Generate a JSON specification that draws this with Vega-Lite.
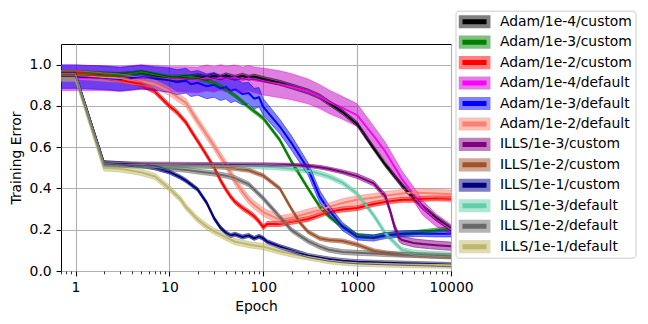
{
"$schema":"https://vega.github.io/schema/vega-lite/v6.json",
"width":390,"height":227,
"autosize":{"type":"none"},
"padding":{"left":61,"top":44,"right":197,"bottom":53},
"background":"white",
"config":{
 "font":"DejaVu Sans",
 "view":{"stroke":"#000000","strokeWidth":1},
 "axis":{"labelFont":"DejaVu Sans","labelFontSize":13.9,"labelColor":"#000000","titleFont":"DejaVu Sans","titleFontSize":13.9,"titleFontWeight":"normal","titleColor":"#000000","tickColor":"#000000","domain":false,"gridColor":"#b0b0b0","gridWidth":1.1}
},
"data":{"values":[
{"run":"Adam/1e-4/custom","epoch":0.7,"err":0.960,"lo":0.950,"hi":0.970},
{"run":"Adam/1e-4/custom","epoch":1,"err":0.960,"lo":0.950,"hi":0.970},
{"run":"Adam/1e-4/custom","epoch":1.5,"err":0.957,"lo":0.947,"hi":0.967},
{"run":"Adam/1e-4/custom","epoch":2,"err":0.954,"lo":0.944,"hi":0.964},
{"run":"Adam/1e-4/custom","epoch":3,"err":0.952,"lo":0.942,"hi":0.962},
{"run":"Adam/1e-4/custom","epoch":4,"err":0.956,"lo":0.946,"hi":0.966},
{"run":"Adam/1e-4/custom","epoch":5,"err":0.962,"lo":0.952,"hi":0.972},
{"run":"Adam/1e-4/custom","epoch":7,"err":0.948,"lo":0.938,"hi":0.958},
{"run":"Adam/1e-4/custom","epoch":10,"err":0.932,"lo":0.922,"hi":0.942},
{"run":"Adam/1e-4/custom","epoch":12,"err":0.930,"lo":0.920,"hi":0.940},
{"run":"Adam/1e-4/custom","epoch":15,"err":0.938,"lo":0.928,"hi":0.948},
{"run":"Adam/1e-4/custom","epoch":20,"err":0.944,"lo":0.932,"hi":0.956},
{"run":"Adam/1e-4/custom","epoch":25,"err":0.936,"lo":0.924,"hi":0.948},
{"run":"Adam/1e-4/custom","epoch":30,"err":0.946,"lo":0.934,"hi":0.958},
{"run":"Adam/1e-4/custom","epoch":35,"err":0.938,"lo":0.926,"hi":0.950},
{"run":"Adam/1e-4/custom","epoch":40,"err":0.948,"lo":0.936,"hi":0.960},
{"run":"Adam/1e-4/custom","epoch":50,"err":0.936,"lo":0.924,"hi":0.948},
{"run":"Adam/1e-4/custom","epoch":60,"err":0.946,"lo":0.934,"hi":0.958},
{"run":"Adam/1e-4/custom","epoch":70,"err":0.936,"lo":0.924,"hi":0.948},
{"run":"Adam/1e-4/custom","epoch":80,"err":0.942,"lo":0.930,"hi":0.954},
{"run":"Adam/1e-4/custom","epoch":100,"err":0.930,"lo":0.918,"hi":0.942},
{"run":"Adam/1e-4/custom","epoch":150,"err":0.912,"lo":0.900,"hi":0.924},
{"run":"Adam/1e-4/custom","epoch":200,"err":0.895,"lo":0.883,"hi":0.907},
{"run":"Adam/1e-4/custom","epoch":300,"err":0.870,"lo":0.858,"hi":0.882},
{"run":"Adam/1e-4/custom","epoch":400,"err":0.845,"lo":0.833,"hi":0.857},
{"run":"Adam/1e-4/custom","epoch":500,"err":0.815,"lo":0.803,"hi":0.827},
{"run":"Adam/1e-4/custom","epoch":700,"err":0.770,"lo":0.758,"hi":0.782},
{"run":"Adam/1e-4/custom","epoch":1000,"err":0.712,"lo":0.700,"hi":0.724},
{"run":"Adam/1e-4/custom","epoch":1500,"err":0.595,"lo":0.583,"hi":0.607},
{"run":"Adam/1e-4/custom","epoch":2000,"err":0.515,"lo":0.503,"hi":0.527},
{"run":"Adam/1e-4/custom","epoch":3000,"err":0.415,"lo":0.403,"hi":0.427},
{"run":"Adam/1e-4/custom","epoch":4000,"err":0.355,"lo":0.343,"hi":0.367},
{"run":"Adam/1e-4/custom","epoch":5000,"err":0.310,"lo":0.298,"hi":0.322},
{"run":"Adam/1e-4/custom","epoch":7000,"err":0.255,"lo":0.243,"hi":0.267},
{"run":"Adam/1e-4/custom","epoch":10000,"err":0.205,"lo":0.193,"hi":0.217},

{"run":"Adam/1e-3/custom","epoch":0.7,"err":0.962,"lo":0.952,"hi":0.972},
{"run":"Adam/1e-3/custom","epoch":1,"err":0.962,"lo":0.952,"hi":0.972},
{"run":"Adam/1e-3/custom","epoch":1.5,"err":0.958,"lo":0.948,"hi":0.968},
{"run":"Adam/1e-3/custom","epoch":2,"err":0.955,"lo":0.945,"hi":0.965},
{"run":"Adam/1e-3/custom","epoch":3,"err":0.950,"lo":0.940,"hi":0.960},
{"run":"Adam/1e-3/custom","epoch":4,"err":0.956,"lo":0.946,"hi":0.966},
{"run":"Adam/1e-3/custom","epoch":5,"err":0.964,"lo":0.954,"hi":0.974},
{"run":"Adam/1e-3/custom","epoch":7,"err":0.952,"lo":0.942,"hi":0.962},
{"run":"Adam/1e-3/custom","epoch":10,"err":0.940,"lo":0.930,"hi":0.950},
{"run":"Adam/1e-3/custom","epoch":15,"err":0.944,"lo":0.934,"hi":0.954},
{"run":"Adam/1e-3/custom","epoch":20,"err":0.935,"lo":0.925,"hi":0.945},
{"run":"Adam/1e-3/custom","epoch":30,"err":0.912,"lo":0.902,"hi":0.922},
{"run":"Adam/1e-3/custom","epoch":40,"err":0.880,"lo":0.870,"hi":0.890},
{"run":"Adam/1e-3/custom","epoch":50,"err":0.850,"lo":0.840,"hi":0.860},
{"run":"Adam/1e-3/custom","epoch":70,"err":0.795,"lo":0.785,"hi":0.805},
{"run":"Adam/1e-3/custom","epoch":100,"err":0.740,"lo":0.730,"hi":0.750},
{"run":"Adam/1e-3/custom","epoch":150,"err":0.635,"lo":0.625,"hi":0.645},
{"run":"Adam/1e-3/custom","epoch":200,"err":0.530,"lo":0.520,"hi":0.540},
{"run":"Adam/1e-3/custom","epoch":300,"err":0.400,"lo":0.390,"hi":0.410},
{"run":"Adam/1e-3/custom","epoch":400,"err":0.312,"lo":0.302,"hi":0.322},
{"run":"Adam/1e-3/custom","epoch":500,"err":0.265,"lo":0.255,"hi":0.275},
{"run":"Adam/1e-3/custom","epoch":700,"err":0.215,"lo":0.205,"hi":0.225},
{"run":"Adam/1e-3/custom","epoch":1000,"err":0.172,"lo":0.162,"hi":0.182},
{"run":"Adam/1e-3/custom","epoch":1500,"err":0.165,"lo":0.155,"hi":0.175},
{"run":"Adam/1e-3/custom","epoch":2000,"err":0.175,"lo":0.165,"hi":0.185},
{"run":"Adam/1e-3/custom","epoch":3000,"err":0.180,"lo":0.170,"hi":0.190},
{"run":"Adam/1e-3/custom","epoch":4000,"err":0.185,"lo":0.175,"hi":0.195},
{"run":"Adam/1e-3/custom","epoch":5000,"err":0.190,"lo":0.180,"hi":0.200},
{"run":"Adam/1e-3/custom","epoch":7000,"err":0.198,"lo":0.188,"hi":0.208},
{"run":"Adam/1e-3/custom","epoch":10000,"err":0.205,"lo":0.195,"hi":0.215},

{"run":"Adam/1e-2/custom","epoch":0.7,"err":0.960,"lo":0.948,"hi":0.972},
{"run":"Adam/1e-2/custom","epoch":1,"err":0.960,"lo":0.948,"hi":0.972},
{"run":"Adam/1e-2/custom","epoch":1.5,"err":0.950,"lo":0.938,"hi":0.962},
{"run":"Adam/1e-2/custom","epoch":2,"err":0.943,"lo":0.931,"hi":0.955},
{"run":"Adam/1e-2/custom","epoch":3,"err":0.925,"lo":0.913,"hi":0.937},
{"run":"Adam/1e-2/custom","epoch":4,"err":0.915,"lo":0.903,"hi":0.927},
{"run":"Adam/1e-2/custom","epoch":5,"err":0.905,"lo":0.893,"hi":0.917},
{"run":"Adam/1e-2/custom","epoch":7,"err":0.870,"lo":0.858,"hi":0.882},
{"run":"Adam/1e-2/custom","epoch":10,"err":0.800,"lo":0.788,"hi":0.812},
{"run":"Adam/1e-2/custom","epoch":12,"err":0.770,"lo":0.758,"hi":0.782},
{"run":"Adam/1e-2/custom","epoch":15,"err":0.720,"lo":0.708,"hi":0.732},
{"run":"Adam/1e-2/custom","epoch":17,"err":0.680,"lo":0.668,"hi":0.692},
{"run":"Adam/1e-2/custom","epoch":20,"err":0.630,"lo":0.618,"hi":0.642},
{"run":"Adam/1e-2/custom","epoch":25,"err":0.560,"lo":0.548,"hi":0.572},
{"run":"Adam/1e-2/custom","epoch":30,"err":0.500,"lo":0.488,"hi":0.512},
{"run":"Adam/1e-2/custom","epoch":35,"err":0.440,"lo":0.428,"hi":0.452},
{"run":"Adam/1e-2/custom","epoch":40,"err":0.395,"lo":0.383,"hi":0.407},
{"run":"Adam/1e-2/custom","epoch":45,"err":0.360,"lo":0.348,"hi":0.372},
{"run":"Adam/1e-2/custom","epoch":50,"err":0.335,"lo":0.323,"hi":0.347},
{"run":"Adam/1e-2/custom","epoch":60,"err":0.305,"lo":0.293,"hi":0.317},
{"run":"Adam/1e-2/custom","epoch":70,"err":0.285,"lo":0.273,"hi":0.297},
{"run":"Adam/1e-2/custom","epoch":80,"err":0.265,"lo":0.253,"hi":0.277},
{"run":"Adam/1e-2/custom","epoch":90,"err":0.240,"lo":0.228,"hi":0.252},
{"run":"Adam/1e-2/custom","epoch":100,"err":0.212,"lo":0.200,"hi":0.224},
{"run":"Adam/1e-2/custom","epoch":110,"err":0.228,"lo":0.216,"hi":0.240},
{"run":"Adam/1e-2/custom","epoch":150,"err":0.228,"lo":0.216,"hi":0.240},
{"run":"Adam/1e-2/custom","epoch":200,"err":0.238,"lo":0.226,"hi":0.250},
{"run":"Adam/1e-2/custom","epoch":300,"err":0.252,"lo":0.240,"hi":0.264},
{"run":"Adam/1e-2/custom","epoch":400,"err":0.272,"lo":0.260,"hi":0.284},
{"run":"Adam/1e-2/custom","epoch":500,"err":0.288,"lo":0.276,"hi":0.300},
{"run":"Adam/1e-2/custom","epoch":700,"err":0.298,"lo":0.286,"hi":0.310},
{"run":"Adam/1e-2/custom","epoch":1000,"err":0.305,"lo":0.293,"hi":0.317},
{"run":"Adam/1e-2/custom","epoch":1500,"err":0.325,"lo":0.313,"hi":0.337},
{"run":"Adam/1e-2/custom","epoch":2000,"err":0.335,"lo":0.323,"hi":0.347},
{"run":"Adam/1e-2/custom","epoch":3000,"err":0.345,"lo":0.333,"hi":0.357},
{"run":"Adam/1e-2/custom","epoch":4000,"err":0.345,"lo":0.333,"hi":0.357},
{"run":"Adam/1e-2/custom","epoch":5000,"err":0.350,"lo":0.338,"hi":0.362},
{"run":"Adam/1e-2/custom","epoch":7000,"err":0.352,"lo":0.340,"hi":0.364},
{"run":"Adam/1e-2/custom","epoch":10000,"err":0.350,"lo":0.338,"hi":0.362},

{"run":"Adam/1e-4/default","epoch":0.7,"err":0.935,"lo":0.875,"hi":0.995},
{"run":"Adam/1e-4/default","epoch":1,"err":0.935,"lo":0.875,"hi":0.995},
{"run":"Adam/1e-4/default","epoch":2,"err":0.935,"lo":0.875,"hi":0.995},
{"run":"Adam/1e-4/default","epoch":3,"err":0.930,"lo":0.870,"hi":0.990},
{"run":"Adam/1e-4/default","epoch":5,"err":0.940,"lo":0.880,"hi":1.000},
{"run":"Adam/1e-4/default","epoch":7,"err":0.935,"lo":0.875,"hi":0.995},
{"run":"Adam/1e-4/default","epoch":10,"err":0.930,"lo":0.870,"hi":0.990},
{"run":"Adam/1e-4/default","epoch":15,"err":0.928,"lo":0.866,"hi":0.990},
{"run":"Adam/1e-4/default","epoch":20,"err":0.925,"lo":0.862,"hi":0.988},
{"run":"Adam/1e-4/default","epoch":25,"err":0.935,"lo":0.872,"hi":0.998},
{"run":"Adam/1e-4/default","epoch":30,"err":0.928,"lo":0.866,"hi":0.990},
{"run":"Adam/1e-4/default","epoch":35,"err":0.938,"lo":0.876,"hi":1.000},
{"run":"Adam/1e-4/default","epoch":40,"err":0.930,"lo":0.868,"hi":0.992},
{"run":"Adam/1e-4/default","epoch":50,"err":0.936,"lo":0.874,"hi":0.998},
{"run":"Adam/1e-4/default","epoch":60,"err":0.926,"lo":0.864,"hi":0.988},
{"run":"Adam/1e-4/default","epoch":70,"err":0.934,"lo":0.872,"hi":0.996},
{"run":"Adam/1e-4/default","epoch":80,"err":0.926,"lo":0.864,"hi":0.988},
{"run":"Adam/1e-4/default","epoch":100,"err":0.918,"lo":0.853,"hi":0.983},
{"run":"Adam/1e-4/default","epoch":150,"err":0.905,"lo":0.840,"hi":0.970},
{"run":"Adam/1e-4/default","epoch":200,"err":0.893,"lo":0.830,"hi":0.956},
{"run":"Adam/1e-4/default","epoch":300,"err":0.870,"lo":0.810,"hi":0.930},
{"run":"Adam/1e-4/default","epoch":400,"err":0.845,"lo":0.787,"hi":0.903},
{"run":"Adam/1e-4/default","epoch":500,"err":0.820,"lo":0.763,"hi":0.877},
{"run":"Adam/1e-4/default","epoch":700,"err":0.790,"lo":0.735,"hi":0.845},
{"run":"Adam/1e-4/default","epoch":1000,"err":0.755,"lo":0.700,"hi":0.810},
{"run":"Adam/1e-4/default","epoch":1500,"err":0.655,"lo":0.608,"hi":0.702},
{"run":"Adam/1e-4/default","epoch":2000,"err":0.578,"lo":0.533,"hi":0.623},
{"run":"Adam/1e-4/default","epoch":3000,"err":0.445,"lo":0.405,"hi":0.485},
{"run":"Adam/1e-4/default","epoch":4000,"err":0.372,"lo":0.337,"hi":0.407},
{"run":"Adam/1e-4/default","epoch":5000,"err":0.305,"lo":0.270,"hi":0.340},
{"run":"Adam/1e-4/default","epoch":7000,"err":0.245,"lo":0.215,"hi":0.275},
{"run":"Adam/1e-4/default","epoch":10000,"err":0.200,"lo":0.175,"hi":0.225},

{"run":"Adam/1e-3/default","epoch":0.7,"err":0.942,"lo":0.885,"hi":0.999},
{"run":"Adam/1e-3/default","epoch":1,"err":0.942,"lo":0.885,"hi":0.999},
{"run":"Adam/1e-3/default","epoch":2,"err":0.936,"lo":0.879,"hi":0.993},
{"run":"Adam/1e-3/default","epoch":3,"err":0.930,"lo":0.873,"hi":0.987},
{"run":"Adam/1e-3/default","epoch":5,"err":0.940,"lo":0.883,"hi":0.997},
{"run":"Adam/1e-3/default","epoch":7,"err":0.932,"lo":0.875,"hi":0.989},
{"run":"Adam/1e-3/default","epoch":10,"err":0.925,"lo":0.866,"hi":0.984},
{"run":"Adam/1e-3/default","epoch":12,"err":0.915,"lo":0.855,"hi":0.975},
{"run":"Adam/1e-3/default","epoch":15,"err":0.922,"lo":0.862,"hi":0.982},
{"run":"Adam/1e-3/default","epoch":17,"err":0.905,"lo":0.845,"hi":0.965},
{"run":"Adam/1e-3/default","epoch":20,"err":0.912,"lo":0.852,"hi":0.972},
{"run":"Adam/1e-3/default","epoch":25,"err":0.895,"lo":0.835,"hi":0.955},
{"run":"Adam/1e-3/default","epoch":30,"err":0.902,"lo":0.842,"hi":0.962},
{"run":"Adam/1e-3/default","epoch":35,"err":0.885,"lo":0.826,"hi":0.944},
{"run":"Adam/1e-3/default","epoch":40,"err":0.892,"lo":0.834,"hi":0.950},
{"run":"Adam/1e-3/default","epoch":45,"err":0.872,"lo":0.815,"hi":0.929},
{"run":"Adam/1e-3/default","epoch":50,"err":0.880,"lo":0.824,"hi":0.936},
{"run":"Adam/1e-3/default","epoch":60,"err":0.858,"lo":0.805,"hi":0.911},
{"run":"Adam/1e-3/default","epoch":70,"err":0.862,"lo":0.810,"hi":0.914},
{"run":"Adam/1e-3/default","epoch":80,"err":0.835,"lo":0.785,"hi":0.885},
{"run":"Adam/1e-3/default","epoch":90,"err":0.842,"lo":0.795,"hi":0.889},
{"run":"Adam/1e-3/default","epoch":100,"err":0.795,"lo":0.755,"hi":0.835},
{"run":"Adam/1e-3/default","epoch":150,"err":0.700,"lo":0.665,"hi":0.735},
{"run":"Adam/1e-3/default","epoch":200,"err":0.620,"lo":0.585,"hi":0.655},
{"run":"Adam/1e-3/default","epoch":300,"err":0.495,"lo":0.465,"hi":0.525},
{"run":"Adam/1e-3/default","epoch":400,"err":0.360,"lo":0.330,"hi":0.390},
{"run":"Adam/1e-3/default","epoch":500,"err":0.295,"lo":0.270,"hi":0.320},
{"run":"Adam/1e-3/default","epoch":700,"err":0.215,"lo":0.195,"hi":0.235},
{"run":"Adam/1e-3/default","epoch":1000,"err":0.165,"lo":0.150,"hi":0.180},
{"run":"Adam/1e-3/default","epoch":1500,"err":0.160,"lo":0.145,"hi":0.175},
{"run":"Adam/1e-3/default","epoch":2000,"err":0.172,"lo":0.157,"hi":0.187},
{"run":"Adam/1e-3/default","epoch":3000,"err":0.180,"lo":0.165,"hi":0.195},
{"run":"Adam/1e-3/default","epoch":5000,"err":0.182,"lo":0.167,"hi":0.197},
{"run":"Adam/1e-3/default","epoch":7000,"err":0.180,"lo":0.165,"hi":0.195},
{"run":"Adam/1e-3/default","epoch":10000,"err":0.180,"lo":0.165,"hi":0.195},

{"run":"Adam/1e-2/default","epoch":0.7,"err":0.950,"lo":0.930,"hi":0.970},
{"run":"Adam/1e-2/default","epoch":1,"err":0.950,"lo":0.930,"hi":0.970},
{"run":"Adam/1e-2/default","epoch":1.5,"err":0.945,"lo":0.925,"hi":0.965},
{"run":"Adam/1e-2/default","epoch":2,"err":0.940,"lo":0.920,"hi":0.960},
{"run":"Adam/1e-2/default","epoch":3,"err":0.935,"lo":0.915,"hi":0.955},
{"run":"Adam/1e-2/default","epoch":4,"err":0.925,"lo":0.905,"hi":0.945},
{"run":"Adam/1e-2/default","epoch":5,"err":0.920,"lo":0.900,"hi":0.940},
{"run":"Adam/1e-2/default","epoch":7,"err":0.905,"lo":0.885,"hi":0.925},
{"run":"Adam/1e-2/default","epoch":10,"err":0.870,"lo":0.850,"hi":0.890},
{"run":"Adam/1e-2/default","epoch":12,"err":0.845,"lo":0.825,"hi":0.865},
{"run":"Adam/1e-2/default","epoch":15,"err":0.815,"lo":0.795,"hi":0.835},
{"run":"Adam/1e-2/default","epoch":20,"err":0.725,"lo":0.705,"hi":0.745},
{"run":"Adam/1e-2/default","epoch":25,"err":0.660,"lo":0.640,"hi":0.680},
{"run":"Adam/1e-2/default","epoch":30,"err":0.605,"lo":0.585,"hi":0.625},
{"run":"Adam/1e-2/default","epoch":35,"err":0.555,"lo":0.535,"hi":0.575},
{"run":"Adam/1e-2/default","epoch":40,"err":0.515,"lo":0.495,"hi":0.535},
{"run":"Adam/1e-2/default","epoch":50,"err":0.435,"lo":0.415,"hi":0.455},
{"run":"Adam/1e-2/default","epoch":60,"err":0.385,"lo":0.365,"hi":0.405},
{"run":"Adam/1e-2/default","epoch":70,"err":0.345,"lo":0.325,"hi":0.365},
{"run":"Adam/1e-2/default","epoch":80,"err":0.320,"lo":0.300,"hi":0.340},
{"run":"Adam/1e-2/default","epoch":100,"err":0.285,"lo":0.265,"hi":0.305},
{"run":"Adam/1e-2/default","epoch":150,"err":0.248,"lo":0.228,"hi":0.268},
{"run":"Adam/1e-2/default","epoch":200,"err":0.258,"lo":0.238,"hi":0.278},
{"run":"Adam/1e-2/default","epoch":300,"err":0.280,"lo":0.260,"hi":0.300},
{"run":"Adam/1e-2/default","epoch":400,"err":0.295,"lo":0.275,"hi":0.315},
{"run":"Adam/1e-2/default","epoch":500,"err":0.310,"lo":0.290,"hi":0.330},
{"run":"Adam/1e-2/default","epoch":700,"err":0.330,"lo":0.310,"hi":0.350},
{"run":"Adam/1e-2/default","epoch":1000,"err":0.345,"lo":0.325,"hi":0.365},
{"run":"Adam/1e-2/default","epoch":1500,"err":0.355,"lo":0.335,"hi":0.375},
{"run":"Adam/1e-2/default","epoch":2000,"err":0.365,"lo":0.345,"hi":0.385},
{"run":"Adam/1e-2/default","epoch":3000,"err":0.375,"lo":0.355,"hi":0.395},
{"run":"Adam/1e-2/default","epoch":4000,"err":0.380,"lo":0.360,"hi":0.400},
{"run":"Adam/1e-2/default","epoch":5000,"err":0.378,"lo":0.358,"hi":0.398},
{"run":"Adam/1e-2/default","epoch":7000,"err":0.375,"lo":0.355,"hi":0.395},
{"run":"Adam/1e-2/default","epoch":10000,"err":0.372,"lo":0.352,"hi":0.392},

{"run":"ILLS/1e-3/custom","epoch":0.7,"err":0.950,"lo":0.942,"hi":0.958},
{"run":"ILLS/1e-3/custom","epoch":1,"err":0.950,"lo":0.942,"hi":0.958},
{"run":"ILLS/1e-3/custom","epoch":2,"err":0.525,"lo":0.517,"hi":0.533},
{"run":"ILLS/1e-3/custom","epoch":3,"err":0.522,"lo":0.514,"hi":0.530},
{"run":"ILLS/1e-3/custom","epoch":5,"err":0.520,"lo":0.512,"hi":0.528},
{"run":"ILLS/1e-3/custom","epoch":10,"err":0.519,"lo":0.511,"hi":0.527},
{"run":"ILLS/1e-3/custom","epoch":20,"err":0.518,"lo":0.510,"hi":0.526},
{"run":"ILLS/1e-3/custom","epoch":50,"err":0.517,"lo":0.509,"hi":0.525},
{"run":"ILLS/1e-3/custom","epoch":100,"err":0.516,"lo":0.508,"hi":0.524},
{"run":"ILLS/1e-3/custom","epoch":150,"err":0.515,"lo":0.507,"hi":0.523},
{"run":"ILLS/1e-3/custom","epoch":200,"err":0.514,"lo":0.506,"hi":0.522},
{"run":"ILLS/1e-3/custom","epoch":300,"err":0.510,"lo":0.502,"hi":0.518},
{"run":"ILLS/1e-3/custom","epoch":400,"err":0.503,"lo":0.494,"hi":0.512},
{"run":"ILLS/1e-3/custom","epoch":500,"err":0.495,"lo":0.486,"hi":0.504},
{"run":"ILLS/1e-3/custom","epoch":700,"err":0.480,"lo":0.470,"hi":0.490},
{"run":"ILLS/1e-3/custom","epoch":1000,"err":0.460,"lo":0.448,"hi":0.472},
{"run":"ILLS/1e-3/custom","epoch":1500,"err":0.425,"lo":0.412,"hi":0.438},
{"run":"ILLS/1e-3/custom","epoch":2000,"err":0.362,"lo":0.348,"hi":0.376},
{"run":"ILLS/1e-3/custom","epoch":2250,"err":0.290,"lo":0.275,"hi":0.305},
{"run":"ILLS/1e-3/custom","epoch":2500,"err":0.215,"lo":0.198,"hi":0.232},
{"run":"ILLS/1e-3/custom","epoch":2800,"err":0.160,"lo":0.142,"hi":0.178},
{"run":"ILLS/1e-3/custom","epoch":3000,"err":0.150,"lo":0.131,"hi":0.169},
{"run":"ILLS/1e-3/custom","epoch":4000,"err":0.136,"lo":0.116,"hi":0.156},
{"run":"ILLS/1e-3/custom","epoch":5000,"err":0.131,"lo":0.111,"hi":0.151},
{"run":"ILLS/1e-3/custom","epoch":7000,"err":0.125,"lo":0.105,"hi":0.145},
{"run":"ILLS/1e-3/custom","epoch":10000,"err":0.120,"lo":0.100,"hi":0.140},

{"run":"ILLS/1e-2/custom","epoch":0.7,"err":0.950,"lo":0.940,"hi":0.960},
{"run":"ILLS/1e-2/custom","epoch":1,"err":0.950,"lo":0.940,"hi":0.960},
{"run":"ILLS/1e-2/custom","epoch":2,"err":0.522,"lo":0.512,"hi":0.532},
{"run":"ILLS/1e-2/custom","epoch":3,"err":0.516,"lo":0.506,"hi":0.526},
{"run":"ILLS/1e-2/custom","epoch":5,"err":0.513,"lo":0.503,"hi":0.523},
{"run":"ILLS/1e-2/custom","epoch":10,"err":0.511,"lo":0.501,"hi":0.521},
{"run":"ILLS/1e-2/custom","epoch":20,"err":0.509,"lo":0.499,"hi":0.519},
{"run":"ILLS/1e-2/custom","epoch":30,"err":0.506,"lo":0.496,"hi":0.516},
{"run":"ILLS/1e-2/custom","epoch":40,"err":0.502,"lo":0.492,"hi":0.512},
{"run":"ILLS/1e-2/custom","epoch":50,"err":0.497,"lo":0.487,"hi":0.507},
{"run":"ILLS/1e-2/custom","epoch":70,"err":0.488,"lo":0.478,"hi":0.498},
{"run":"ILLS/1e-2/custom","epoch":100,"err":0.462,"lo":0.452,"hi":0.472},
{"run":"ILLS/1e-2/custom","epoch":150,"err":0.400,"lo":0.390,"hi":0.410},
{"run":"ILLS/1e-2/custom","epoch":200,"err":0.300,"lo":0.290,"hi":0.310},
{"run":"ILLS/1e-2/custom","epoch":250,"err":0.230,"lo":0.220,"hi":0.240},
{"run":"ILLS/1e-2/custom","epoch":300,"err":0.190,"lo":0.180,"hi":0.200},
{"run":"ILLS/1e-2/custom","epoch":400,"err":0.158,"lo":0.148,"hi":0.168},
{"run":"ILLS/1e-2/custom","epoch":500,"err":0.150,"lo":0.140,"hi":0.160},
{"run":"ILLS/1e-2/custom","epoch":700,"err":0.145,"lo":0.135,"hi":0.155},
{"run":"ILLS/1e-2/custom","epoch":1000,"err":0.128,"lo":0.118,"hi":0.138},
{"run":"ILLS/1e-2/custom","epoch":1500,"err":0.098,"lo":0.088,"hi":0.108},
{"run":"ILLS/1e-2/custom","epoch":2000,"err":0.088,"lo":0.078,"hi":0.098},
{"run":"ILLS/1e-2/custom","epoch":3000,"err":0.080,"lo":0.070,"hi":0.090},
{"run":"ILLS/1e-2/custom","epoch":5000,"err":0.074,"lo":0.064,"hi":0.084},
{"run":"ILLS/1e-2/custom","epoch":7000,"err":0.071,"lo":0.061,"hi":0.081},
{"run":"ILLS/1e-2/custom","epoch":10000,"err":0.068,"lo":0.058,"hi":0.078},

{"run":"ILLS/1e-1/custom","epoch":0.7,"err":0.952,"lo":0.942,"hi":0.962},
{"run":"ILLS/1e-1/custom","epoch":1,"err":0.952,"lo":0.942,"hi":0.962},
{"run":"ILLS/1e-1/custom","epoch":2,"err":0.525,"lo":0.515,"hi":0.535},
{"run":"ILLS/1e-1/custom","epoch":3,"err":0.520,"lo":0.510,"hi":0.530},
{"run":"ILLS/1e-1/custom","epoch":5,"err":0.512,"lo":0.502,"hi":0.522},
{"run":"ILLS/1e-1/custom","epoch":7,"err":0.500,"lo":0.490,"hi":0.510},
{"run":"ILLS/1e-1/custom","epoch":10,"err":0.480,"lo":0.470,"hi":0.490},
{"run":"ILLS/1e-1/custom","epoch":13,"err":0.455,"lo":0.445,"hi":0.465},
{"run":"ILLS/1e-1/custom","epoch":15,"err":0.438,"lo":0.428,"hi":0.448},
{"run":"ILLS/1e-1/custom","epoch":20,"err":0.395,"lo":0.385,"hi":0.405},
{"run":"ILLS/1e-1/custom","epoch":25,"err":0.330,"lo":0.320,"hi":0.340},
{"run":"ILLS/1e-1/custom","epoch":30,"err":0.255,"lo":0.245,"hi":0.265},
{"run":"ILLS/1e-1/custom","epoch":35,"err":0.210,"lo":0.200,"hi":0.220},
{"run":"ILLS/1e-1/custom","epoch":40,"err":0.185,"lo":0.175,"hi":0.195},
{"run":"ILLS/1e-1/custom","epoch":45,"err":0.172,"lo":0.162,"hi":0.182},
{"run":"ILLS/1e-1/custom","epoch":50,"err":0.178,"lo":0.168,"hi":0.188},
{"run":"ILLS/1e-1/custom","epoch":60,"err":0.165,"lo":0.155,"hi":0.175},
{"run":"ILLS/1e-1/custom","epoch":70,"err":0.172,"lo":0.162,"hi":0.182},
{"run":"ILLS/1e-1/custom","epoch":80,"err":0.158,"lo":0.148,"hi":0.168},
{"run":"ILLS/1e-1/custom","epoch":90,"err":0.168,"lo":0.158,"hi":0.178},
{"run":"ILLS/1e-1/custom","epoch":100,"err":0.158,"lo":0.148,"hi":0.168},
{"run":"ILLS/1e-1/custom","epoch":110,"err":0.142,"lo":0.132,"hi":0.152},
{"run":"ILLS/1e-1/custom","epoch":150,"err":0.118,"lo":0.108,"hi":0.128},
{"run":"ILLS/1e-1/custom","epoch":200,"err":0.100,"lo":0.090,"hi":0.110},
{"run":"ILLS/1e-1/custom","epoch":300,"err":0.075,"lo":0.065,"hi":0.085},
{"run":"ILLS/1e-1/custom","epoch":400,"err":0.065,"lo":0.055,"hi":0.075},
{"run":"ILLS/1e-1/custom","epoch":500,"err":0.058,"lo":0.048,"hi":0.068},
{"run":"ILLS/1e-1/custom","epoch":700,"err":0.050,"lo":0.040,"hi":0.060},
{"run":"ILLS/1e-1/custom","epoch":1000,"err":0.045,"lo":0.035,"hi":0.055},
{"run":"ILLS/1e-1/custom","epoch":1500,"err":0.042,"lo":0.032,"hi":0.052},
{"run":"ILLS/1e-1/custom","epoch":2000,"err":0.040,"lo":0.030,"hi":0.050},
{"run":"ILLS/1e-1/custom","epoch":3000,"err":0.038,"lo":0.028,"hi":0.048},
{"run":"ILLS/1e-1/custom","epoch":5000,"err":0.035,"lo":0.025,"hi":0.045},
{"run":"ILLS/1e-1/custom","epoch":7000,"err":0.033,"lo":0.023,"hi":0.043},
{"run":"ILLS/1e-1/custom","epoch":10000,"err":0.030,"lo":0.020,"hi":0.040},

{"run":"ILLS/1e-3/default","epoch":0.7,"err":0.945,"lo":0.933,"hi":0.957},
{"run":"ILLS/1e-3/default","epoch":1,"err":0.945,"lo":0.933,"hi":0.957},
{"run":"ILLS/1e-3/default","epoch":2,"err":0.515,"lo":0.503,"hi":0.527},
{"run":"ILLS/1e-3/default","epoch":3,"err":0.513,"lo":0.501,"hi":0.525},
{"run":"ILLS/1e-3/default","epoch":5,"err":0.512,"lo":0.500,"hi":0.524},
{"run":"ILLS/1e-3/default","epoch":10,"err":0.511,"lo":0.499,"hi":0.523},
{"run":"ILLS/1e-3/default","epoch":20,"err":0.510,"lo":0.498,"hi":0.522},
{"run":"ILLS/1e-3/default","epoch":50,"err":0.509,"lo":0.497,"hi":0.521},
{"run":"ILLS/1e-3/default","epoch":100,"err":0.506,"lo":0.494,"hi":0.518},
{"run":"ILLS/1e-3/default","epoch":150,"err":0.501,"lo":0.489,"hi":0.513},
{"run":"ILLS/1e-3/default","epoch":200,"err":0.496,"lo":0.484,"hi":0.508},
{"run":"ILLS/1e-3/default","epoch":300,"err":0.486,"lo":0.474,"hi":0.498},
{"run":"ILLS/1e-3/default","epoch":400,"err":0.472,"lo":0.460,"hi":0.484},
{"run":"ILLS/1e-3/default","epoch":500,"err":0.458,"lo":0.446,"hi":0.470},
{"run":"ILLS/1e-3/default","epoch":700,"err":0.428,"lo":0.416,"hi":0.440},
{"run":"ILLS/1e-3/default","epoch":1000,"err":0.375,"lo":0.363,"hi":0.387},
{"run":"ILLS/1e-3/default","epoch":1500,"err":0.270,"lo":0.258,"hi":0.282},
{"run":"ILLS/1e-3/default","epoch":2000,"err":0.182,"lo":0.170,"hi":0.194},
{"run":"ILLS/1e-3/default","epoch":3000,"err":0.102,"lo":0.090,"hi":0.114},
{"run":"ILLS/1e-3/default","epoch":4000,"err":0.090,"lo":0.078,"hi":0.102},
{"run":"ILLS/1e-3/default","epoch":5000,"err":0.086,"lo":0.074,"hi":0.098},
{"run":"ILLS/1e-3/default","epoch":7000,"err":0.083,"lo":0.071,"hi":0.095},
{"run":"ILLS/1e-3/default","epoch":10000,"err":0.080,"lo":0.068,"hi":0.092},

{"run":"ILLS/1e-2/default","epoch":0.7,"err":0.945,"lo":0.933,"hi":0.957},
{"run":"ILLS/1e-2/default","epoch":1,"err":0.945,"lo":0.933,"hi":0.957},
{"run":"ILLS/1e-2/default","epoch":2,"err":0.520,"lo":0.508,"hi":0.532},
{"run":"ILLS/1e-2/default","epoch":3,"err":0.515,"lo":0.503,"hi":0.527},
{"run":"ILLS/1e-2/default","epoch":5,"err":0.510,"lo":0.498,"hi":0.522},
{"run":"ILLS/1e-2/default","epoch":7,"err":0.505,"lo":0.493,"hi":0.517},
{"run":"ILLS/1e-2/default","epoch":10,"err":0.498,"lo":0.486,"hi":0.510},
{"run":"ILLS/1e-2/default","epoch":15,"err":0.490,"lo":0.478,"hi":0.502},
{"run":"ILLS/1e-2/default","epoch":20,"err":0.482,"lo":0.470,"hi":0.494},
{"run":"ILLS/1e-2/default","epoch":30,"err":0.472,"lo":0.460,"hi":0.484},
{"run":"ILLS/1e-2/default","epoch":40,"err":0.462,"lo":0.450,"hi":0.474},
{"run":"ILLS/1e-2/default","epoch":50,"err":0.450,"lo":0.438,"hi":0.462},
{"run":"ILLS/1e-2/default","epoch":70,"err":0.420,"lo":0.408,"hi":0.432},
{"run":"ILLS/1e-2/default","epoch":100,"err":0.352,"lo":0.340,"hi":0.364},
{"run":"ILLS/1e-2/default","epoch":150,"err":0.262,"lo":0.250,"hi":0.274},
{"run":"ILLS/1e-2/default","epoch":200,"err":0.198,"lo":0.186,"hi":0.210},
{"run":"ILLS/1e-2/default","epoch":300,"err":0.145,"lo":0.133,"hi":0.157},
{"run":"ILLS/1e-2/default","epoch":400,"err":0.118,"lo":0.106,"hi":0.130},
{"run":"ILLS/1e-2/default","epoch":500,"err":0.103,"lo":0.091,"hi":0.115},
{"run":"ILLS/1e-2/default","epoch":700,"err":0.092,"lo":0.080,"hi":0.104},
{"run":"ILLS/1e-2/default","epoch":1000,"err":0.088,"lo":0.076,"hi":0.100},
{"run":"ILLS/1e-2/default","epoch":1500,"err":0.085,"lo":0.073,"hi":0.097},
{"run":"ILLS/1e-2/default","epoch":2000,"err":0.082,"lo":0.070,"hi":0.094},
{"run":"ILLS/1e-2/default","epoch":3000,"err":0.079,"lo":0.067,"hi":0.091},
{"run":"ILLS/1e-2/default","epoch":5000,"err":0.076,"lo":0.064,"hi":0.088},
{"run":"ILLS/1e-2/default","epoch":7000,"err":0.074,"lo":0.062,"hi":0.086},
{"run":"ILLS/1e-2/default","epoch":10000,"err":0.072,"lo":0.060,"hi":0.084},

{"run":"ILLS/1e-1/default","epoch":0.7,"err":0.935,"lo":0.920,"hi":0.950},
{"run":"ILLS/1e-1/default","epoch":1,"err":0.935,"lo":0.920,"hi":0.950},
{"run":"ILLS/1e-1/default","epoch":2,"err":0.500,"lo":0.485,"hi":0.515},
{"run":"ILLS/1e-1/default","epoch":3,"err":0.495,"lo":0.480,"hi":0.510},
{"run":"ILLS/1e-1/default","epoch":5,"err":0.478,"lo":0.463,"hi":0.493},
{"run":"ILLS/1e-1/default","epoch":7,"err":0.458,"lo":0.443,"hi":0.473},
{"run":"ILLS/1e-1/default","epoch":10,"err":0.400,"lo":0.385,"hi":0.415},
{"run":"ILLS/1e-1/default","epoch":13,"err":0.350,"lo":0.335,"hi":0.365},
{"run":"ILLS/1e-1/default","epoch":15,"err":0.310,"lo":0.295,"hi":0.325},
{"run":"ILLS/1e-1/default","epoch":20,"err":0.250,"lo":0.235,"hi":0.265},
{"run":"ILLS/1e-1/default","epoch":25,"err":0.215,"lo":0.200,"hi":0.230},
{"run":"ILLS/1e-1/default","epoch":30,"err":0.192,"lo":0.177,"hi":0.207},
{"run":"ILLS/1e-1/default","epoch":35,"err":0.178,"lo":0.163,"hi":0.193},
{"run":"ILLS/1e-1/default","epoch":40,"err":0.163,"lo":0.148,"hi":0.178},
{"run":"ILLS/1e-1/default","epoch":50,"err":0.142,"lo":0.127,"hi":0.157},
{"run":"ILLS/1e-1/default","epoch":60,"err":0.135,"lo":0.120,"hi":0.150},
{"run":"ILLS/1e-1/default","epoch":70,"err":0.128,"lo":0.113,"hi":0.143},
{"run":"ILLS/1e-1/default","epoch":80,"err":0.124,"lo":0.109,"hi":0.139},
{"run":"ILLS/1e-1/default","epoch":100,"err":0.118,"lo":0.103,"hi":0.133},
{"run":"ILLS/1e-1/default","epoch":150,"err":0.096,"lo":0.081,"hi":0.111},
{"run":"ILLS/1e-1/default","epoch":200,"err":0.083,"lo":0.068,"hi":0.098},
{"run":"ILLS/1e-1/default","epoch":300,"err":0.068,"lo":0.053,"hi":0.083},
{"run":"ILLS/1e-1/default","epoch":400,"err":0.058,"lo":0.043,"hi":0.073},
{"run":"ILLS/1e-1/default","epoch":500,"err":0.050,"lo":0.035,"hi":0.065},
{"run":"ILLS/1e-1/default","epoch":700,"err":0.043,"lo":0.028,"hi":0.058},
{"run":"ILLS/1e-1/default","epoch":1000,"err":0.038,"lo":0.023,"hi":0.053},
{"run":"ILLS/1e-1/default","epoch":2000,"err":0.034,"lo":0.019,"hi":0.049},
{"run":"ILLS/1e-1/default","epoch":3000,"err":0.032,"lo":0.017,"hi":0.047},
{"run":"ILLS/1e-1/default","epoch":5000,"err":0.030,"lo":0.015,"hi":0.045},
{"run":"ILLS/1e-1/default","epoch":10000,"err":0.028,"lo":0.013,"hi":0.043}
]},
"encoding":{
 "x":{"field":"epoch","type":"quantitative","title":"Epoch",
  "scale":{"type":"log","domain":[0.7,10000],"nice":false},
  "axis":{"values":[0.7,0.8,0.9,1,2,3,4,5,6,7,8,9,10,20,30,40,50,60,70,80,90,100,200,300,400,500,600,700,800,900,1000,2000,3000,4000,5000,6000,7000,8000,9000,10000],
   "format":"d",
   "labelExpr":"(datum.value == 1 || datum.value == 10 || datum.value == 100 || datum.value == 1000 || datum.value == 10000) ? datum.label : ''",
   "labelOverlap":false,"labelFlush":false,
   "tickSize":{"condition":{"test":"datum.value == 1 || datum.value == 10 || datum.value == 100 || datum.value == 1000 || datum.value == 10000","value":4.9},"value":2.8},
   "tickWidth":{"condition":{"test":"datum.value == 1 || datum.value == 10 || datum.value == 100 || datum.value == 1000 || datum.value == 10000","value":1.1},"value":0.8},
   "gridOpacity":{"condition":{"test":"datum.value == 1 || datum.value == 10 || datum.value == 100 || datum.value == 1000 || datum.value == 10000","value":1},"value":0},
   "grid":true,"labelPadding":4.9,"titlePadding":5}}
},
"layer":[
 {"mark":{"type":"area","opacity":0.5,"clip":true},
  "encoding":{
   "y":{"field":"lo","type":"quantitative","title":"Training Error","scale":{"domain":[0,1.1],"nice":false},
    "axis":{"values":[0,0.2,0.4,0.6,0.8,1.0],"format":".1f","grid":true,"tickSize":4.9,"tickWidth":1.1,"labelPadding":4.9,"titlePadding":6}},
   "y2":{"field":"hi"},
   "fill":{"field":"run","type":"nominal","sort":null,
    "scale":{"range":["#000000","#008000","#ff0000","#c000c0","#0000ff","#fa8072","#800080","#a0522d","#000080","#66cdaa","#696969","#bdb76b"]},
    "legend":{"orient":"none","legendX":394.5,"legendY":-33.3,"title":null,"padding":3,
     "symbolType":"M-1,-0.41H1V0.41H-1Z","symbolSize":1024,"symbolStrokeWidth":0,"symbolOpacity":0.5,
     "labelExpr":"''","labelOffset":9.5,"clipHeight":16,"rowPadding":4.45}}
  }},
 {"mark":{"type":"line","strokeWidth":2,"clip":true},
  "encoding":{
   "y":{"field":"err","type":"quantitative","title":"Training Error","scale":{"domain":[0,1.1],"nice":false}},
   "stroke":{"field":"run","type":"nominal",
    "scale":{"domain":["Adam/1e-4/custom","Adam/1e-3/custom","Adam/1e-2/custom","Adam/1e-4/default","Adam/1e-3/default","Adam/1e-2/default","ILLS/1e-3/custom","ILLS/1e-2/custom","ILLS/1e-1/custom","ILLS/1e-3/default","ILLS/1e-2/default","ILLS/1e-1/default"],
     "range":["#000000","#008000","#ff0000","#ff00ff","#0000ff","#fa8072","#800080","#a0522d","#000080","#66cdaa","#696969","#bdb76b"]},
    "legend":{"orient":"none","legendX":394.5,"legendY":-33.3,"title":null,"padding":3,
     "strokeColor":"#cccccc","cornerRadius":3,
     "symbolType":"M-0.889,0H0.889","symbolSize":729,"symbolStrokeWidth":5,"symbolOpacity":1,
     "labelOffset":9.5,"clipHeight":16,"rowPadding":4.45,"labelFont":"DejaVu Sans","labelFontSize":13.9,"labelColor":"#000000","labelLimit":300,
     "encode":{"symbols":{"update":{"strokeWidth":{"value":5},"opacity":{"value":1}}}}}}
  }},
 {"mark":{"type":"line","strokeWidth":1,"opacity":0.5,"clip":true},
  "encoding":{
   "y":{"field":"lo","type":"quantitative","title":"Training Error","scale":{"domain":[0,1.1],"nice":false}},
   "stroke":{"field":"run","type":"nominal",
    "scale":{"domain":["Adam/1e-4/custom","Adam/1e-3/custom","Adam/1e-2/custom","Adam/1e-4/default","Adam/1e-3/default","Adam/1e-2/default","ILLS/1e-3/custom","ILLS/1e-2/custom","ILLS/1e-1/custom","ILLS/1e-3/default","ILLS/1e-2/default","ILLS/1e-1/default"],
     "range":["#000000","#008000","#ff0000","#ff00ff","#0000ff","#fa8072","#800080","#a0522d","#000080","#66cdaa","#696969","#bdb76b"]}}
  }},
 {"mark":{"type":"line","strokeWidth":1,"opacity":0.5,"clip":true},
  "encoding":{
   "y":{"field":"hi","type":"quantitative","title":"Training Error","scale":{"domain":[0,1.1],"nice":false}},
   "stroke":{"field":"run","type":"nominal",
    "scale":{"domain":["Adam/1e-4/custom","Adam/1e-3/custom","Adam/1e-2/custom","Adam/1e-4/default","Adam/1e-3/default","Adam/1e-2/default","ILLS/1e-3/custom","ILLS/1e-2/custom","ILLS/1e-1/custom","ILLS/1e-3/default","ILLS/1e-2/default","ILLS/1e-1/default"],
     "range":["#000000","#008000","#ff0000","#ff00ff","#0000ff","#fa8072","#800080","#a0522d","#000080","#66cdaa","#696969","#bdb76b"]}}
  }}
]
}
